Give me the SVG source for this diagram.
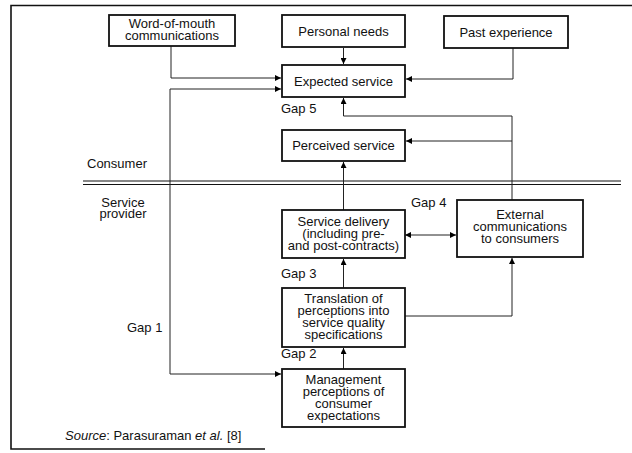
<svg xmlns="http://www.w3.org/2000/svg" width="632" height="453" viewBox="0 0 632 453">
<defs>
<marker id="arr" viewBox="0 0 10 10" refX="10" refY="5" markerWidth="7" markerHeight="6" markerUnits="userSpaceOnUse" orient="auto-start-reverse">
<path d="M0,0 L10,5 L0,10 z" fill="#000"/>
</marker>
<style>
text{font-family:"Liberation Sans",Arial,sans-serif;font-size:13px;fill:#111}
.box rect{fill:#fff;stroke:#111;stroke-width:1.8}
.box text{text-anchor:middle}
.c path{fill:none;stroke:#222;stroke-width:1}
.frame{fill:none;stroke:#111;stroke-width:1.6}
.i{font-style:italic}
</style>
</defs>
<rect width="632" height="453" fill="#fff"/>
<path class="frame" d="M632 5.5 H11 V449 H265"/>
<g id="divider">
<line x1="83" y1="181" x2="621" y2="181" stroke="#111" stroke-width="1.2"/>
<line x1="83" y1="184.5" x2="621" y2="184.5" stroke="#111" stroke-width="1"/>
</g>
<g class="c" id="connectors">
<path d="M171 46 V78 H281" marker-end="url(#arr)"/>
<path d="M281 89 H170 V374 H281" marker-start="url(#arr)" marker-end="url(#arr)"/>
<path d="M343.5 48 V64" marker-end="url(#arr)"/>
<path d="M513 48 V79 H406" marker-end="url(#arr)"/>
<path d="M512 200 V116 H343.5 V98" marker-end="url(#arr)"/>
<path d="M512 141 H406" marker-end="url(#arr)"/>
<path d="M343.5 210 V162" marker-end="url(#arr)"/>
<path d="M405 235 H456" marker-start="url(#arr)" marker-end="url(#arr)"/>
<path d="M343.5 288 V259" marker-end="url(#arr)"/>
<path d="M405 316 H512 V258" marker-end="url(#arr)"/>
<path d="M343.5 369 V348" marker-end="url(#arr)"/>
</g>
<g class="box" id="word-of-mouth">
<rect x="109" y="15" width="126" height="31"/>
<text x="172" y="28">Word-of-mouth</text>
<text x="172" y="40">communications</text>
</g>
<g class="box" id="personal-needs">
<rect x="282" y="15" width="123" height="32"/>
<text x="343.5" y="35.5">Personal needs</text>
</g>
<g class="box" id="past-experience">
<rect x="444" y="16" width="124" height="32"/>
<text x="506" y="36.5">Past experience</text>
</g>
<g class="box" id="expected-service">
<rect x="282" y="65" width="123" height="32"/>
<text x="343.5" y="85.5">Expected service</text>
</g>
<g class="box" id="perceived-service">
<rect x="282" y="130" width="123" height="31"/>
<text x="343.5" y="150">Perceived service</text>
</g>
<g class="box" id="service-delivery">
<rect x="282" y="210" width="123" height="48"/>
<text x="343.5" y="226">Service delivery</text>
<text x="343.5" y="238">(including pre-</text>
<text x="343.5" y="250">and post-contracts)</text>
</g>
<g class="box" id="external-communications">
<rect x="457" y="200" width="126" height="57"/>
<text x="520" y="219">External</text>
<text x="520" y="231">communications</text>
<text x="520" y="243">to consumers</text>
</g>
<g class="box" id="translation">
<rect x="282" y="288" width="123" height="59"/>
<text x="343.5" y="303">Translation of</text>
<text x="343.5" y="315">perceptions into</text>
<text x="343.5" y="327">service quality</text>
<text x="343.5" y="339">specifications</text>
</g>
<g class="box" id="management">
<rect x="282" y="369" width="123" height="58"/>
<text x="343.5" y="384">Management</text>
<text x="343.5" y="396">perceptions of</text>
<text x="343.5" y="408">consumer</text>
<text x="343.5" y="420">expectations</text>
</g>
<g id="labels">
<text x="281" y="113">Gap 5</text>
<text x="87" y="168">Consumer</text>
<text x="123" y="207" text-anchor="middle">Service</text>
<text x="123" y="218" text-anchor="middle">provider</text>
<text x="411" y="207">Gap 4</text>
<text x="281" y="278">Gap 3</text>
<text x="127" y="332">Gap 1</text>
<text x="281" y="358">Gap 2</text>
<text x="65" y="440"><tspan class="i">Source</tspan>: Parasuraman <tspan class="i">et al.</tspan> [8]</text>
</g>
</svg>
